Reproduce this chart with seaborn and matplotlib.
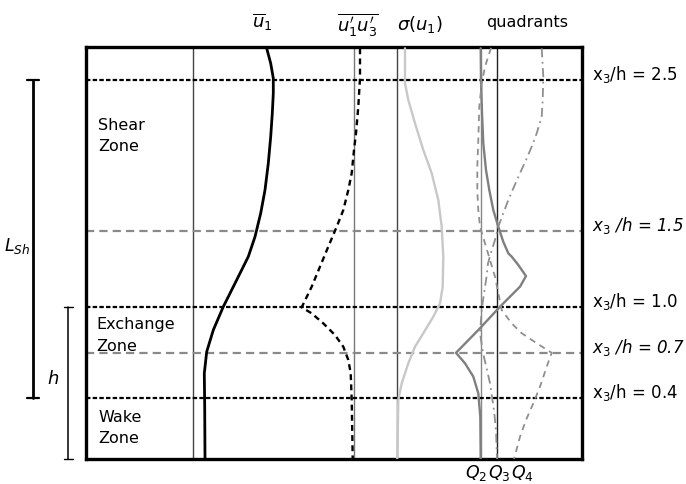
import matplotlib
matplotlib.use("Agg")
import matplotlib.pyplot as plt
import seaborn as sns

sns.set_style("white")
plt.rcParams['font.family'] = ['DejaVu Sans']
plt.rcParams['mathtext.fontset'] = 'dejavusans'
plt.rcParams['text.color'] = 'black'

# ---- data (schematic profiles: x in display units, z = x3/h) ----
u1_x = [266.7, 270.7, 273.3, 273.3, 272.3, 270.7, 268.3, 265, 260.7, 255, 248.3, 240, 230, 223.3,
        213.3, 206.7, 204.3, 204.7, 205]
u1_z = [2.707, 2.608, 2.510, 2.411, 2.279, 2.125, 1.949, 1.773, 1.620, 1.465, 1.334, 1.224, 1.092, 1.004,
        0.850, 0.707, 0.565, 0.345, 0.0]

uu_x = [360, 360, 358.3, 356, 354, 351.7, 348.3, 343.3, 336.7, 328.3, 320, 311.7, 301.7, 311.7, 323.3,
        335, 343.3, 348.3, 350.7, 351.7, 352.7]
uu_z = [2.707, 2.510, 2.323, 2.147, 2.037, 1.884, 1.773, 1.641, 1.531, 1.400, 1.268, 1.136, 1.0, 0.960, 0.894,
        0.817, 0.740, 0.653, 0.565, 0.389, 0.0]

sig_x = [405, 405, 408.3, 415, 423.3, 431.7, 438.3, 441.7, 443.3, 442.7, 440, 433.3, 423.3, 415, 408.3,
         401.7, 398.3, 397.3]
sig_z = [2.707, 2.477, 2.367, 2.213, 2.037, 1.884, 1.707, 1.531, 1.334, 1.136, 1.026, 0.938, 0.829, 0.740,
         0.631, 0.499, 0.389, 0.0]

q2_x = [480.7, 481, 482, 483.3, 486, 489.3, 493.3, 498.3, 503.3, 508.3, 511.7, 518.3, 526, 520, 500, 478.3,
        456, 465, 473.3, 478.3, 480.3, 480.7]
q2_z = [2.707, 2.498, 2.279, 2.081, 1.905, 1.773, 1.641, 1.531, 1.432, 1.356, 1.334, 1.279, 1.206, 1.136,
        1.004, 0.850, 0.70, 0.631, 0.543, 0.433, 0.279, 0.0]

q3_x = [541.7, 543.3, 542.7, 541.7, 536.7, 531.7, 526, 520, 514, 508.3, 503.3, 498.3, 495, 491, 488,
        486.5, 484, 482, 480, 483, 490, 494, 496, 497]
q3_z = [2.707, 2.520, 2.367, 2.257, 2.147, 2.059, 1.971, 1.884, 1.795, 1.707, 1.620, 1.531, 1.444, 1.36,
        1.29, 1.20, 1.09, 1.00, 0.83, 0.70, 0.50, 0.32, 0.19, 0.0]

q4_x = [491, 485, 481.7, 479.3, 478.3, 477.3, 477.3, 478.3, 480, 487, 495, 501.7, 511.7, 521.7, 536.7,
        551.7, 546.7, 540, 533.3, 526, 520, 514]
q4_z = [2.71, 2.586, 2.477, 2.323, 2.103, 1.927, 1.773, 1.641, 1.531, 1.378, 1.202, 0.982, 0.894, 0.829,
        0.763, 0.70, 0.608, 0.477, 0.367, 0.257, 0.147, 0.0]

baselines = [193, 354, 397, 481, 497]
zone_levels_solid = [2.5, 1.0, 0.4]
zone_levels_dashed = [1.5, 0.7]
right_labels_upright = ["x$_3$/h = 2.5", "x$_3$/h = 1.0", "x$_3$/h = 0.4"]
right_labels_italic = ["x$_{\\mathit{3}}$ /h = 1.5", "x$_{\\mathit{3}}$ /h = 0.7"]
top_labels = [r"$\overline{u}_1$", r"$\overline{u^{\prime}_1 u^{\prime}_3}$", r"$\sigma(u_1)$", "quadrants"]
top_label_x = [262, 358, 420, 527]
top_label_base = [28, 31, 30, 27]
q_labels = ["$Q_2$", "$Q_3$", "$Q_4$"]
q_label_x = [476, 499, 522]
zone_lines = [("Shear", 98, 130), ("Zone", 98, 151),
              ("Exchange", 96, 329), ("Zone", 96, 351),
              ("Wake", 98, 422), ("Zone", 98, 443)]

# ---- figure ----
W, H = 686, 484
fig = plt.figure(figsize=(W / 100, H / 100), dpi=100)
X0, X1, YT, YB = 86, 582, 47, 459
ax = fig.add_axes([X0 / W, (H - YB) / H, (X1 - X0) / W, (YB - YT) / H])
PX = 151.7  # pixels per unit of x3/h
ZMAX = (YB - YT) / PX

def py(p):
    return (YB - p) / PX

# thin vertical baselines
base_cols = ['#444444', '#777777', '#444444', '#888888', '#222222']
for xb, c in zip(baselines, base_cols):
    ax.axvline(xb, color=c, lw=1.0, zorder=1)

# horizontal level lines
for z in zone_levels_solid:
    ax.axhline(z, color='black', lw=1.6, linestyle=(0, (2, 1)), zorder=2)
for z in zone_levels_dashed:
    ax.axhline(z, color='#8a8a8a', lw=1.6, linestyle=(0, (3.7, 2.3)), zorder=2)

# profiles
common = dict(sort=False, estimator=None, ax=ax, zorder=3)
sns.lineplot(x=u1_x, y=u1_z, color='black', lw=2.0, **common)
sns.lineplot(x=uu_x, y=uu_z, color='black', lw=1.7, linestyle=(0, (2.5, 1.8)), **common)
sns.lineplot(x=sig_x, y=sig_z, color='#c8c8c8', lw=1.7, **common)
sns.lineplot(x=q2_x, y=q2_z, color='#7f7f7f', lw=1.7, **common)
sns.lineplot(x=q3_x, y=q3_z, color='#8f8f8f', lw=1.3, linestyle=(0, (5, 2.5, 1, 2.5)), **common)
sns.lineplot(x=q4_x, y=q4_z, color='#8f8f8f', lw=1.3, linestyle=(0, (3.5, 2.8)), **common)

ax.set_xlim(X0, X1)
ax.set_ylim(0, ZMAX)
ax.set_xticks([])
ax.set_yticks([])
ax.set_xlabel("")
ax.set_ylabel("")
for s in ax.spines.values():
    s.set_linewidth(2.4)
    s.set_color('black')

# right labels
for z, t in zip(zone_levels_solid, right_labels_upright):
    ax.text(592, z, t, fontsize=12, ha='left', va='baseline', clip_on=False)
for z, t in zip(zone_levels_dashed, right_labels_italic):
    ax.text(592, z, t, fontsize=12, ha='left', va='baseline', style='italic', clip_on=False)

# top labels
for xl, yb, t in zip(top_label_x, top_label_base, top_labels):
    fs = 11.5 if t == "quadrants" else 13
    ax.text(xl, py(yb), t, fontsize=fs, ha='center', va='baseline', clip_on=False)

# bottom Q labels
for xl, t in zip(q_label_x, q_labels):
    ax.text(xl, py(478), t, fontsize=12.5, ha='center', va='baseline', clip_on=False)

# zone names
for t, xl, yb in zone_lines:
    ax.text(xl, py(yb), t, fontsize=11.5, ha='left', va='baseline')

# left bars: L_Sh and h
ax.plot([33, 33], [2.5, 0.4], color='black', lw=2.0, clip_on=False)
for z in [2.5, 0.4]:
    ax.plot([27, 39], [z, z], color='black', lw=1.6, clip_on=False)
ax.text(17, py(246), "$L_{Sh}$", fontsize=12.5, ha='center', va='center', clip_on=False)

ax.plot([68, 68], [1.0, 0.0], color='black', lw=1.1, clip_on=False)
for z in [1.0, 0.0]:
    ax.plot([64, 73], [z, z], color='black', lw=1.0, clip_on=False)
ax.text(53, py(379), "$h$", fontsize=13, ha='center', va='center', clip_on=False)

fig.savefig("out.png", dpi=100)
